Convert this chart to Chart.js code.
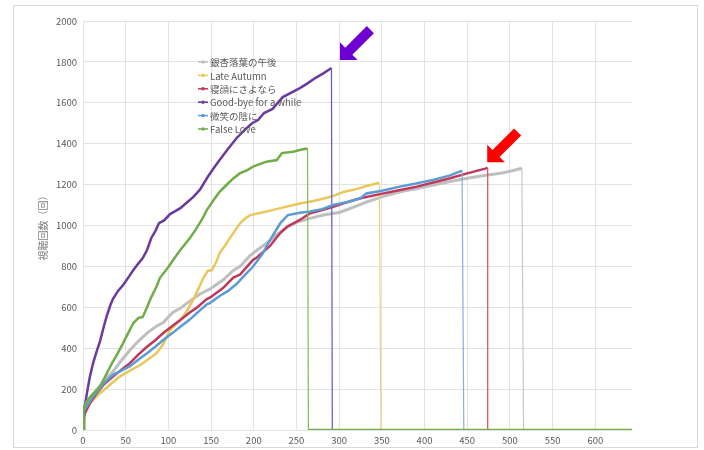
<!DOCTYPE html>
<html>
<head>
<meta charset="utf-8">
<script src="https://cdn.jsdelivr.net/npm/chart.js@4.4.0/dist/chart.umd.min.js"></script>
<style>
  html, body { margin: 0; padding: 0; background: #fff; }
  #wrap { position: relative; width: 704px; height: 450px; }
</style>
</head>
<body>
<div id="wrap"><canvas id="viewsChart" width="704" height="450"></canvas></div>
<script>
// day index vs cumulative views
const seriesNames = ['銀杏落葉の午後', 'Late Autumn', '寝顔にさよなら', 'Good-bye for a while', '微笑の陰に', 'False Love'];

const ichou = [[0,0],[1,80],[2,92],[8,150],[16,196],[25,245],[35,285],[45,340],[55,391],[65,435],[75,474],[85,505],[94,525],[105,575],[114,595],[125,630],[137,665],[149,690],[164,733],[176,780],[184,800],[195,850],[204,880],[219,925],[227,955],[240,995],[250,1015],[266,1035],[280,1050],[301,1065],[320,1095],[332,1115],[350,1140],[371,1165],[390,1180],[410,1198],[430,1215],[450,1231],[470,1245],[489,1255],[505,1270],[514,1280],[516,0]];
const lateAutumn = [[0,0],[1,95],[2,98],[10,140],[20,180],[30,215],[43,261],[55,290],[67,318],[76,345],[86,375],[94,420],[102,489],[114,538],[122,585],[129,636],[135,690],[141,743],[146,778],[151,782],[156,820],[160,865],[166,900],[172,938],[178,975],[184,1011],[190,1035],[196,1051],[215,1068],[231,1085],[254,1108],[270,1120],[289,1139],[300,1155],[305,1164],[320,1178],[332,1193],[347,1209],[349,0]];
const negao = [[0,0],[1,60],[2,80],[8,130],[16,180],[25,225],[35,261],[45,295],[55,327],[65,370],[75,407],[85,440],[94,474],[105,510],[114,538],[125,575],[133,597],[145,640],[149,648],[164,694],[176,745],[184,760],[199,831],[204,845],[219,900],[231,963],[239,994],[254,1027],[266,1060],[280,1075],[293,1092],[310,1115],[325,1133],[352,1157],[370,1172],[391,1190],[410,1210],[430,1231],[450,1255],[471,1278],[474,1282],[474,0]];
const goodbye = [[0,0],[1,60],[2,112],[5,190],[8,259],[12,330],[16,385],[20,435],[24,500],[28,560],[32,610],[35,640],[41,680],[47,709],[53,745],[59,782],[64,810],[70,841],[75,880],[80,939],[85,975],[89,1012],[95,1025],[102,1056],[108,1070],[114,1085],[121,1110],[129,1139],[137,1175],[146,1237],[153,1280],[160,1320],[170,1375],[180,1428],[190,1470],[198,1500],[205,1516],[212,1550],[222,1570],[234,1628],[244,1650],[254,1672],[263,1695],[272,1721],[282,1745],[291,1770],[292,0]];
const hohoemi = [[0,0],[1,90],[2,100],[8,140],[16,185],[25,230],[35,270],[45,290],[55,312],[65,345],[75,375],[85,408],[94,440],[105,475],[114,505],[125,540],[133,570],[145,615],[149,622],[160,655],[170,680],[180,715],[190,760],[199,798],[210,860],[219,929],[231,1011],[240,1051],[254,1062],[266,1068],[280,1080],[293,1100],[310,1115],[325,1133],[332,1157],[350,1170],[371,1190],[390,1205],[410,1223],[430,1245],[444,1268],[446,0]];
const falseLove = [[0,0],[1,110],[4,138],[10,170],[20,212],[27,270],[34,327],[40,370],[47,425],[53,475],[59,523],[65,548],[70,553],[75,600],[80,650],[86,700],[90,743],[100,797],[107,840],[114,880],[125,938],[132,980],[139,1027],[145,1075],[153,1125],[160,1165],[168,1198],[176,1230],[184,1256],[192,1270],[199,1288],[207,1300],[215,1312],[227,1320],[233,1354],[246,1361],[255,1370],[263,1377],[264,0],[643,0]];

const seriesData = [ichou, lateAutumn, negao, goodbye, hohoemi, falseLove];
const lineColors = ['#BFBFBF', '#E8C85A', '#C0385A', '#6B3A9E', '#5B9BD5', '#70AD47'];
const dropColors = ['#C8C8C8', '#EBD27A', '#E04858', '#5858D0', '#8AB0DA', '#80BA5A'];
const lineWidths = [3, 2.5, 2.5, 2.5, 2.5, 2.5];

const xTicks = [0, 50, 100, 150, 200, 250, 300, 350, 400, 450, 500, 550, 600];
const yMax = 2000;
const xMax = 643;

const FONT = "'Noto Sans CJK JP', 'Noto Sans', sans-serif";
Chart.defaults.font.family = FONT;
Chart.defaults.color = '#595959';

const isDrop = ctx => ctx.p1.parsed.y === 0 && ctx.p0.parsed.y > 0 && ctx.p0.parsed.x > 1;

const datasets = seriesData.map((pts, i) => ({
    label: seriesNames[i],
    data: pts.map(p => ({ x: p[0], y: p[1] })),
    borderColor: lineColors[i],
    borderWidth: lineWidths[i],
    pointRadius: 0,
    tension: 0,
    order: -i, // later series on top, like Excel
    segment: {
        borderWidth: ctx => isDrop(ctx) ? 1.2 : undefined,
        borderColor: ctx => isDrop(ctx) ? dropColors[i] : undefined
    }
}));

// frame around the whole chart
const framePlugin = {
    id: 'frame',
    beforeDraw(chart) {
        const c = chart.ctx;
        c.save();
        c.fillStyle = '#fff';
        c.fillRect(0, 0, chart.width, chart.height);
        c.strokeStyle = '#D9D9D9';
        c.lineWidth = 1;
        c.strokeRect(13.5, 5.5, 684, 442);
        c.restore();
    }
};

// legend inside the plot area
const legendPlugin = {
    id: 'innerLegend',
    afterDraw(chart) {
        const c = chart.ctx;
        c.save();
        c.font = '9.5px ' + FONT;
        c.textBaseline = 'middle';
        seriesNames.forEach((name, i) => {
            const y = 62 + i * 13.4;
            c.strokeStyle = i === 3 ? '#3F3FA8' : lineColors[i];
            c.lineWidth = 1.5;
            c.beginPath();
            c.moveTo(198, y);
            c.lineTo(208, y);
            c.stroke();
            c.fillStyle = i === 3 ? '#8A3A9E' : lineColors[i];
            c.beginPath();
            c.arc(203, y, 1.8, 0, Math.PI * 2);
            c.fill();
            c.fillStyle = '#595959';
            c.fillText(name, 210, y + 0.5);
        });
        c.restore();
    }
};

// the two block arrows pointing at series ends
function blockArrow(c, tipX, tipY, color) {
    const ux = Math.SQRT1_2, uy = -Math.SQRT1_2; // from tip towards tail
    const vx = Math.SQRT1_2, vy = Math.SQRT1_2;  // across
    const len = 43, headLen = 12.5, headW = 12.5, shaftW = 5;
    const p = (a, b) => [tipX + ux * a + vx * b, tipY + uy * a + vy * b];
    const pts = [p(0, 0), p(headLen, headW), p(headLen, shaftW), p(len, shaftW), p(len, -shaftW), p(headLen, -shaftW), p(headLen, -headW)];
    c.fillStyle = color;
    c.beginPath();
    c.moveTo(pts[0][0], pts[0][1]);
    for (let k = 1; k < pts.length; k++) c.lineTo(pts[k][0], pts[k][1]);
    c.closePath();
    c.fill();
}

const arrowPlugin = {
    id: 'arrows',
    afterDraw(chart) {
        const xs = chart.scales.x, ys = chart.scales.y;
        const c = chart.ctx;
        c.save();
        const g = goodbye[goodbye.length - 2];
        blockArrow(c, xs.getPixelForValue(g[0]) + 8.5, ys.getPixelForValue(g[1]) - 8, '#6E00D2');
        const r = negao[negao.length - 2];
        blockArrow(c, xs.getPixelForValue(r[0]) - 0.5, ys.getPixelForValue(r[1]) - 5.5, '#FF0000');
        c.restore();
    }
};

new Chart(document.getElementById('viewsChart'), {
    type: 'line',
    data: { datasets },
    options: {
        responsive: false,
        animation: false,
        layout: { padding: { left: 13, right: 72, top: 21, bottom: 3 } },
        plugins: {
            legend: { display: false },
            tooltip: { enabled: false }
        },
        scales: {
            x: {
                type: 'linear',
                min: 0,
                max: xMax,
                afterBuildTicks: scale => { scale.ticks = xTicks.map(v => ({ value: v })); },
                afterFit: scale => { scale.height = 17; },
                grid: { color: '#E3E3E3', drawTicks: false },
                border: { display: false },
                ticks: { padding: 5, font: { size: 9.5 }, maxRotation: 0, callback: v => String(v) }
            },
            y: {
                min: 0,
                max: yMax,
                afterFit: scale => { scale.width = 70; },
                grid: { color: '#E3E3E3', drawTicks: false },
                border: { display: false },
                ticks: { stepSize: 200, padding: 6, font: { size: 9.5 }, callback: v => String(v) },
                title: {
                    display: true,
                    text: '視聴回数（回）',
                    color: '#7F7F7F',
                    font: { size: 10 },
                    padding: { top: 24, bottom: 0 }
                }
            }
        }
    },
    plugins: [framePlugin, legendPlugin, arrowPlugin]
});
</script>
</body>
</html>
